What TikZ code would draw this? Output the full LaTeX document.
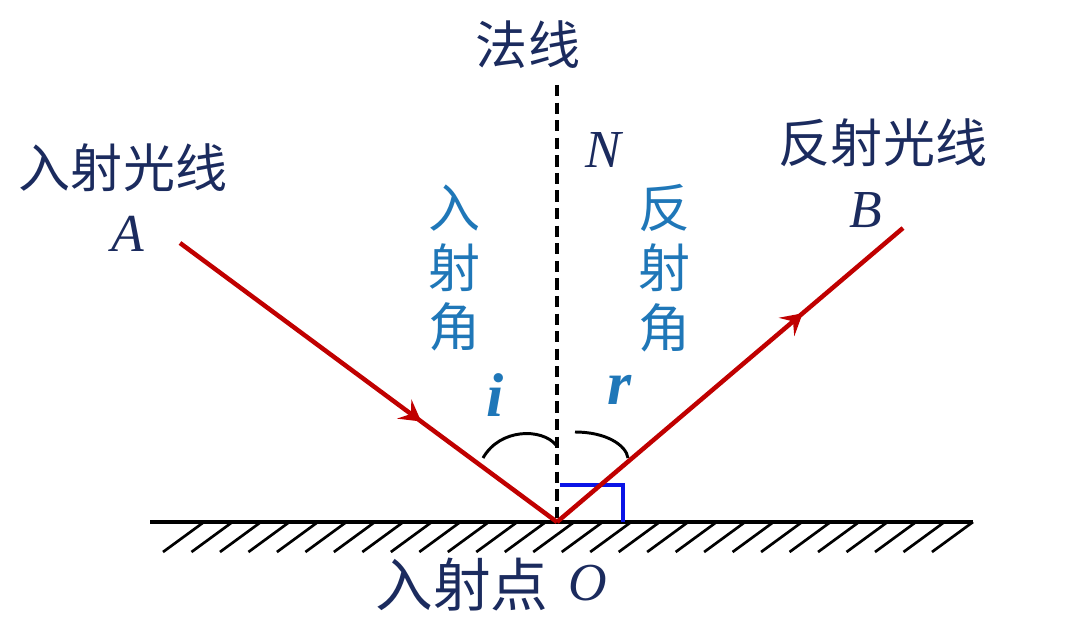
\documentclass[tikz,border=0pt]{standalone}
\usepackage{fontspec}
\setmainfont{Liberation Serif}
\newfontfamily\cjk{Noto Sans CJK SC}
\usetikzlibrary{arrows.meta,decorations.markings}

\definecolor{navy}{HTML}{1B2B5E}
\definecolor{anglebl}{HTML}{1F77B8}
\definecolor{rayred}{HTML}{C00000}
\definecolor{rightbl}{HTML}{0A14E6}

\tikzset{
  cntext/.style={text=navy, inner sep=0pt, font=\cjk\fontsize{37}{40}\selectfont},
  letter/.style={text=navy, inner sep=0pt, font=\fontsize{38}{40}\selectfont\itshape},
  angtext/.style={text=anglebl, inner sep=0pt, align=center, font=\cjk\fontsize{37}{42.5}\selectfont},
  angsym/.style={text=anglebl, inner sep=0pt, font=\fontsize{44}{44}\selectfont\bfseries\itshape},
  ray/.style={draw=rayred, line width=3.2pt,
    decoration={markings, mark=at position #1 with {\arrow[rayred]{Stealth[length=15pt,width=17pt,inset=6pt]}}},
    postaction={decorate}},
  mirror/.style={draw, line width=2.3pt},
  hatch/.style={draw, line width=1.9pt},
  normalline/.style={draw, line width=2.4pt, dash pattern=on 8pt off 4.5pt},
  anglearc/.style={draw, line width=2.1pt},
}

\begin{document}
\begin{tikzpicture}[x=0.025cm, y=-0.025cm]
  \useasboundingbox (0,0) rectangle (1080,623);

  % points on the rays
  \coordinate (o) at (557,522);
  \coordinate (a) at (180,243);
  \coordinate (b) at (903,228);
  \coordinate (n) at (557,85);
  \coordinate (ml) at (150,522);
  \coordinate (mr) at (973,522);

  % mirror and hatching
  \path[mirror] (ml) -- (mr);
  \foreach \k in {0,...,27}
    \path[hatch] ({204+\k*28.48},522) -- ++(-41,30);

  % normal
  \path[normalline] (n) -- (o);

  % right angle mark
  \draw[rightbl, line width=2.8pt] (560,485) -- (623,485) -- (623,522);

  % angle arcs
  \path[anglearc] (483,458) .. controls (500,428) and (542,428) .. (556,445);
  \path[anglearc] (575,432) .. controls (606,432) and (626,445) .. (628,458);

  % rays
  \path[ray=0.64] (a) -- (o);
  \path[ray=0.71] (o) -- (b);

  % texts
  \node[cntext] (fx) at (528,45) {法线};
  \node[letter] (nl) at (603,150) {N};
  \node[cntext] (rsgx) at (123,168) {入射光线};
  \node[letter] (al) at (128,234) {A};
  \node[cntext] (fsgx) at (883,143) {反射光线};
  \node[letter] (bl) at (866,210) {B};
  \node[angtext] (rsj) at (455,268) {入\\射\\角};
  \node[angtext] (fsj) at (665,268) {反\\射\\角};
  \node[angsym] (il) at (495,395) {i};
  \node[angsym] (rl) at (620,390) {r};
  \node[cntext, font=\cjk\fontsize{41}{44}\selectfont] (rsd) at (462,585) {入射点};
  \node[letter] (ol) at (588,583) {O};
\end{tikzpicture}
\end{document}
